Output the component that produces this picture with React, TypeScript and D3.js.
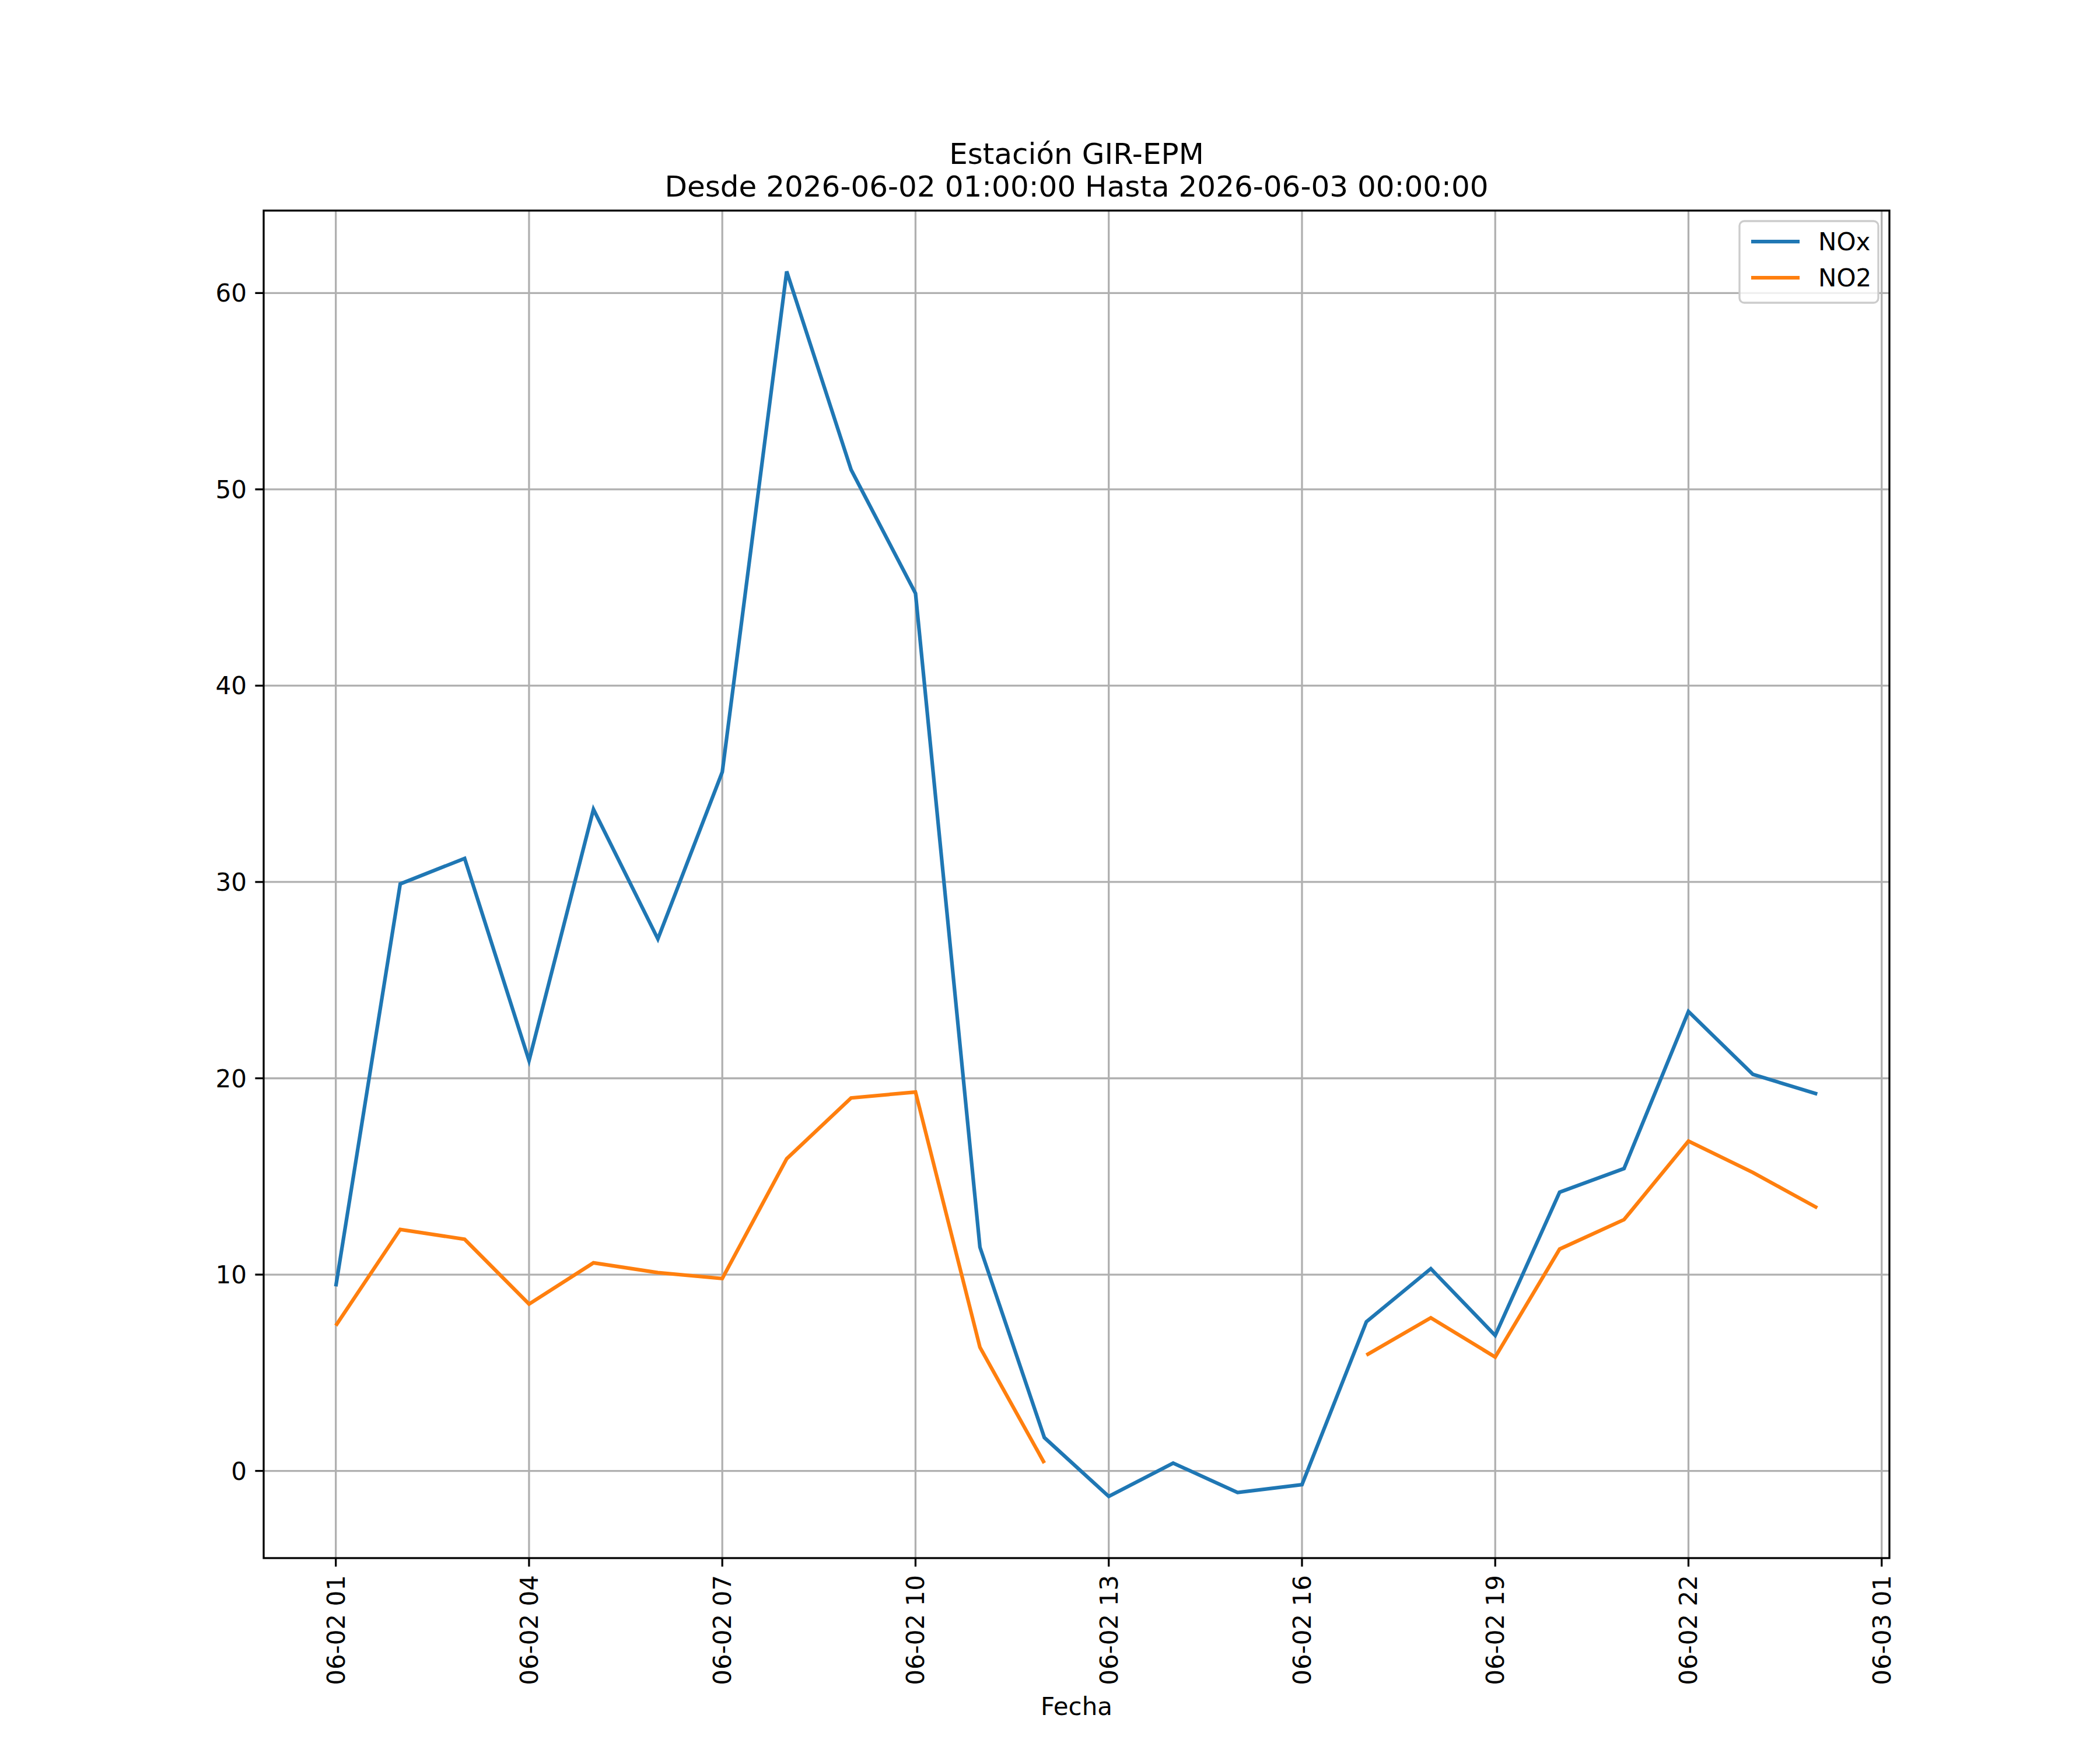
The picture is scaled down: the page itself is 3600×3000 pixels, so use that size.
import React from "react";
import * as d3 from "d3";

const hours = d3.range(1, 25);
const noxValues = [9.4, 29.9, 31.2, 20.9, 33.7, 27.1, 35.6, 61.1, 51.0, 44.7, 11.4, 1.7, -1.3, 0.4, -1.1, -0.7, 7.6, 10.3, 6.9, 14.2, 15.4, 23.4, 20.2, 19.2];
const no2Values: (number | null)[] = [7.4, 12.3, 11.8, 8.5, 10.6, 10.1, 9.8, 15.9, 19.0, 19.3, 6.3, 0.4, null, null, null, null, 5.9, 7.8, 5.8, 11.3, 12.8, 16.8, 15.2, 13.4];
const xTickHours = [1, 4, 7, 10, 13, 16, 19, 22, 25];
const xTickLabels = ["06-02 01", "06-02 04", "06-02 07", "06-02 10", "06-02 13", "06-02 16", "06-02 19", "06-02 22", "06-03 01"];
const yTicks = [0, 10, 20, 30, 40, 50, 60];

const L = 452, R = 3239, T = 361, B = 2671;
const font = "DejaVu Sans, sans-serif";

export default function App() {
  const x = d3.scaleLinear().domain([1 - 1.12, 25.12]).range([L, R]);
  const y = d3.scaleLinear().domain([-4.44, 64.2]).range([B, T]);
  const line = d3.line<[number, number | null]>()
    .defined(d => d[1] !== null)
    .x(d => x(d[0])).y(d => y(d[1] as number));
  const nox = line(hours.map((h, i) => [h, noxValues[i]]));
  const no2 = line(hours.map((h, i) => [h, no2Values[i]]));
  return (
    <svg width={3600} height={3000} style={{ position: "absolute", left: 0, top: 0, background: "#fff" }} fontFamily={font}>
      <rect x={0} y={0} width={3600} height={3000} fill="#fff" />
      {xTickHours.map((h, i) => (
        <g key={i}>
          <line x1={x(h)} x2={x(h)} y1={T} y2={B} stroke="#b0b0b0" strokeWidth={3.3} />
          <line x1={x(h)} x2={x(h)} y1={B} y2={B + 14.6} stroke="#000" strokeWidth={3.3} />
          <text transform={`translate(${x(h) + 15},${B + 29}) rotate(-90)`} textAnchor="end" fontSize={42}>{xTickLabels[i]}</text>
        </g>
      ))}
      {yTicks.map(v => (
        <g key={v}>
          <line x1={L} x2={R} y1={y(v)} y2={y(v)} stroke="#b0b0b0" strokeWidth={3.3} />
          <line x1={L - 14.6} x2={L} y1={y(v)} y2={y(v)} stroke="#000" strokeWidth={3.3} />
          <text x={L - 29} y={y(v) + 15} textAnchor="end" fontSize={42}>{v}</text>
        </g>
      ))}
      <path d={nox ?? ""} fill="none" stroke="#1f77b4" strokeWidth={6.25} />
      <path d={no2 ?? ""} fill="none" stroke="#ff7f0e" strokeWidth={6.25} />
      <rect x={L} y={T} width={R - L} height={B - T} fill="none" stroke="#000" strokeWidth={3.3} />
      <text x={(L + R) / 2} y={281} textAnchor="middle" fontSize={50}>Estación GIR-EPM</text>
      <text x={(L + R) / 2} y={337} textAnchor="middle" fontSize={50}>Desde 2026-06-02 01:00:00 Hasta 2026-06-03 00:00:00</text>
      <text x={(L + R) / 2} y={2940} textAnchor="middle" fontSize={42}>Fecha</text>
      <g>
        <rect x={2982} y={379} width={238} height={140} fill="#fff" fillOpacity={0.8} stroke="#ccc" strokeWidth={3.3} rx={8} />
        <line x1={3002} x2={3085} y1={414} y2={414} stroke="#1f77b4" strokeWidth={6.25} />
        <text x={3117} y={429} fontSize={42}>NOx</text>
        <line x1={3002} x2={3085} y1={476} y2={476} stroke="#ff7f0e" strokeWidth={6.25} />
        <text x={3117} y={491} fontSize={42}>NO2</text>
      </g>
    </svg>
  );
}
